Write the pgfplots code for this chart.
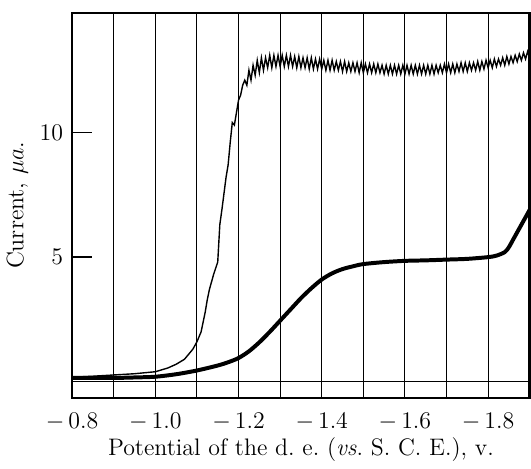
\documentclass[border=0pt]{standalone}
\usepackage{pgfplots}
\pgfplotsset{compat=1.18}
\begin{document}
\begin{tikzpicture}
\begin{axis}[
  scale only axis,
  width=230pt, height=193.5pt,
  x dir=reverse,
  xmin=-1.9, xmax=-0.8,
  ymin=-0.65, ymax=14.8,
  xtick={-0.8,-1.0,-1.2,-1.4,-1.6,-1.8},
  xticklabels={$-\,0.8$,$-\,1.0$,$-\,1.2$,$-\,1.4$,$-\,1.6$,$-\,1.8$},
  minor xtick={-0.9,-1.1,-1.3,-1.5,-1.7,-1.9},
  xmajorgrids, xminorgrids,
  grid style={black, line width=0.5pt},
  minor grid style={black, line width=0.5pt},
  major x tick style={draw=none},
  minor x tick style={draw=none},
  ytick={5,10},
  ytick pos=left,
  tick align=inside,
  major tick length=10pt,
  y tick style={black, line width=0.8pt},
  axis line style={line width=1.3pt},
  xticklabel style={yshift=-4pt},
  yticklabel style={xshift=-1pt},
  xlabel={Potential of the d.\ e.\ (\textit{vs}.\ S.\ C.\ E.), v.},
  ylabel={Current, $\mu a$.},
  xlabel style={yshift=3pt},
  ylabel style={yshift=-1pt},
  tick label style={font=\large},
  label style={font=\large},
  clip=true,
]
% zero line
\addplot[black, line width=0.8pt] coordinates {(-0.8,0) (-1.9,0)};
% curve B (thick)
\addplot[black, line width=2pt, smooth] coordinates {
(-0.80,0.15) (-0.85,0.15) (-0.90,0.15) (-0.95,0.17) (-1.00,0.2) (-1.05,0.3) (-1.10,0.45) (-1.15,0.65)
(-1.175,0.78) (-1.20,0.95) (-1.225,1.22) (-1.25,1.58) (-1.275,2.0) (-1.30,2.45) (-1.325,2.9)
(-1.35,3.35) (-1.375,3.75) (-1.40,4.1) (-1.425,4.35) (-1.45,4.52) (-1.475,4.63)
(-1.50,4.72) (-1.55,4.8) (-1.60,4.85) (-1.65,4.87) (-1.70,4.9) (-1.75,4.93)
(-1.80,5.0) (-1.82,5.06) (-1.84,5.2) (-1.85,5.4) (-1.86,5.7) (-1.87,6.0)
(-1.88,6.3) (-1.89,6.6) (-1.90,6.9)
};
% curve A (thin, steep, oscillating)
\addplot[black, line width=0.7pt] coordinates {
(-0.80,0.18) (-0.85,0.22) (-0.90,0.27) (-0.95,0.32) (-1.00,0.40) (-1.03,0.55)
(-1.05,0.70) (-1.07,0.9) (-1.09,1.3) (-1.10,1.6) (-1.11,2.0) (-1.12,2.8)
(-1.125,3.3) (-1.13,3.7) (-1.14,4.3) (-1.15,4.8) (-1.155,6.3) (-1.16,6.9)
(-1.17,8.2) (-1.175,8.7) (-1.18,9.6) (-1.185,10.4) (-1.19,10.3) (-1.195,10.8)
(-1.20,11.3) (-1.205,11.5) (-1.21,11.9) (-1.215,12.1)
(-1.220,11.9) (-1.225,12.5) (-1.230,12.1) (-1.235,12.7) (-1.240,12.3) (-1.245,12.9)
(-1.250,12.4) (-1.255,13.0) (-1.260,12.5) (-1.265,13.0) (-1.270,12.6) (-1.275,13.1)
(-1.280,12.6) (-1.285,13.1) (-1.290,12.65) (-1.295,13.1) (-1.300,12.65) (-1.305,13.1)
(-1.310,12.65) (-1.315,13.1) (-1.320,12.65) (-1.325,13.1) (-1.330,12.65) (-1.335,13.05)
(-1.340,12.6) (-1.345,13.05) (-1.350,12.6) (-1.355,13.0) (-1.360,12.6) (-1.365,13.0)
(-1.370,12.55) (-1.375,13.0) (-1.380,12.55) (-1.385,12.95) (-1.390,12.55) (-1.395,12.95)
(-1.400,12.55) (-1.405,12.9) (-1.410,12.5) (-1.415,12.9) (-1.420,12.5) (-1.425,12.9)
(-1.430,12.5) (-1.435,12.85) (-1.440,12.5) (-1.445,12.85) (-1.450,12.45) (-1.455,12.85)
(-1.460,12.45) (-1.465,12.8) (-1.470,12.45) (-1.475,12.8) (-1.480,12.45) (-1.485,12.8)
(-1.490,12.4) (-1.495,12.8) (-1.500,12.4) (-1.505,12.75) (-1.510,12.4) (-1.515,12.75)
(-1.520,12.4) (-1.525,12.75) (-1.530,12.4) (-1.535,12.75) (-1.540,12.4) (-1.545,12.7)
(-1.550,12.35) (-1.555,12.7) (-1.560,12.35) (-1.565,12.7) (-1.570,12.35) (-1.575,12.7)
(-1.580,12.35) (-1.585,12.7) (-1.590,12.35) (-1.595,12.7) (-1.600,12.35) (-1.605,12.7)
(-1.610,12.35) (-1.615,12.7) (-1.620,12.35) (-1.625,12.7) (-1.630,12.35) (-1.635,12.7)
(-1.640,12.35) (-1.645,12.7) (-1.650,12.35) (-1.655,12.7) (-1.660,12.35) (-1.665,12.7)
(-1.670,12.35) (-1.675,12.7) (-1.680,12.4) (-1.685,12.7) (-1.690,12.4) (-1.695,12.75)
(-1.700,12.4) (-1.705,12.75) (-1.710,12.4) (-1.715,12.75) (-1.720,12.4) (-1.725,12.75)
(-1.730,12.45) (-1.735,12.8) (-1.740,12.45) (-1.745,12.8) (-1.750,12.45) (-1.755,12.8)
(-1.760,12.5) (-1.765,12.8) (-1.770,12.5) (-1.775,12.85) (-1.780,12.5) (-1.785,12.85)
(-1.790,12.55) (-1.795,12.9) (-1.800,12.6) (-1.805,12.9) (-1.810,12.6) (-1.815,12.95)
(-1.820,12.65) (-1.825,12.95) (-1.830,12.7) (-1.835,13.0) (-1.840,12.7) (-1.845,13.05)
(-1.850,12.75) (-1.855,13.05) (-1.860,12.8) (-1.865,13.1) (-1.870,12.85) (-1.875,13.15)
(-1.880,12.9) (-1.885,13.2) (-1.890,12.95) (-1.895,13.25) (-1.900,13.0)
};
\end{axis}
\path (current axis.north) ++(0,6.5pt) coordinate (topspace);
\end{tikzpicture}
\end{document}
